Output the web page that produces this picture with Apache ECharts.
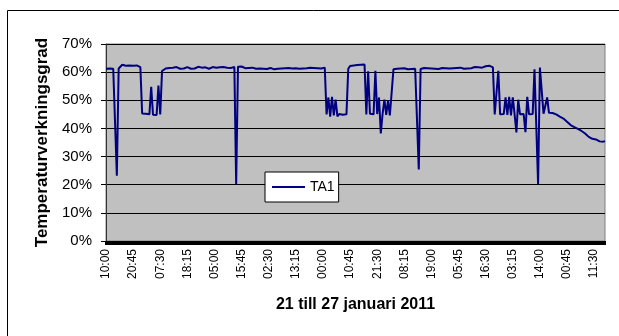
<!DOCTYPE html>
<html>
<head>
<meta charset="utf-8">
<script src="https://cdn.jsdelivr.net/npm/echarts@6/dist/echarts.min.js"></script>
<style>
html,body{margin:0;padding:0;background:#fff;}
#chart{width:619px;height:336px;}
</style>
</head>
<body>
<div id="chart"></div>
<script>
// Tick labels shown on the x axis (one every 15 samples)
var tickLabels = ['10:00','20:45','07:30','18:15','05:00','15:45','02:30','13:15','00:00','10:45',
                  '21:30','08:15','19:00','05:45','16:30','03:15','14:00','00:45','11:30'];
var samplesPerTick = 15;
var seriesName = 'TA1';
var yTicks = [0,10,20,30,40,50,60,70];

// TA1 values (%), 15 samples per tick interval
var ta1 = [
  61.2,61.0,61.3,60.9,61.2,61.4,23.2,61.3,61.8,62.6,62.9,62.3,62.0,62.4,61.9,
  62.3,62.1,62.4,62.0,61.8,45.3,44.8,45.2,44.7,45.0,54.8,44.9,45.2,44.8,55.2,
  45.0,60.4,61.0,61.3,61.1,61.5,61.2,61.6,61.3,61.8,61.4,61.2,61.7,61.3,61.5,
  61.8,61.4,61.2,61.6,61.3,61.5,61.9,61.4,61.6,61.3,61.7,61.5,61.2,61.6,61.8,
  61.4,61.6,61.3,61.7,61.5,61.8,61.4,61.6,61.9,61.5,61.7,61.8,20.2,61.9,61.6,
  62.0,61.7,61.4,61.8,61.5,61.3,61.6,61.4,61.2,61.5,61.3,61.6,61.2,61.4,61.1,
  61.3,61.5,61.2,61.0,61.4,61.2,61.5,61.3,61.0,61.4,61.2,61.5,61.1,61.3,61.2,
  61.4,61.6,61.2,61.5,61.3,61.0,61.4,61.2,61.6,61.3,61.5,61.2,61.4,61.7,61.3,
  61.5,61.6,45.0,51.0,44.2,51.2,44.6,50.2,44.3,45.1,44.4,44.9,44.5,45.0,61.2,
  62.2,62.0,62.4,62.1,62.5,62.3,62.6,62.4,62.7,45.0,60.3,45.2,44.6,45.0,60.5,
  45.1,51.0,38.2,45.3,50.2,44.8,50.0,44.6,45.2,61.0,61.4,61.2,61.0,61.3,61.1,
  61.4,61.2,61.0,61.3,61.1,61.4,61.2,61.0,25.4,61.1,61.3,61.5,61.2,61.4,61.1,
  61.3,61.6,61.2,61.4,61.1,61.3,61.5,61.2,61.4,61.6,61.3,61.1,61.4,61.2,61.5,
  61.3,61.6,61.4,61.2,61.5,61.3,61.7,61.4,61.6,61.8,61.5,61.7,62.0,61.6,61.9,
  62.1,61.8,62.3,62.0,61.7,45.0,44.5,60.5,45.0,44.6,45.1,51.0,44.8,51.2,44.6,
  51.0,45.0,38.6,50.2,45.0,45.5,45.1,38.7,51.2,45.0,45.5,45.1,61.0,61.6,20.2,
  61.6,61.0,45.2,45.6,51.0,45.6,45.4,45.5,45.2,45.0,44.6,44.2,43.8,43.5,43.0,
  42.4,41.8,41.2,40.8,40.5,40.0,39.8,39.4,39.1,38.8,38.2,37.6,37.0,36.6,36.3,
  36.0,36.1,35.7,35.4,35.6,35.3,35.5
];

var categories = ta1.map(function (v, i) {
  return (i % samplesPerTick === 0 && tickLabels[i / samplesPerTick]) ? tickLabels[i / samplesPerTick] : '';
});

var chart = echarts.init(document.getElementById('chart'), null, {renderer: 'canvas'});
var font = '"Liberation Sans", Arial, sans-serif';
chart.setOption({
  animation: false,
  backgroundColor: '#ffffff',
  textStyle: {fontFamily: font},
  graphic: [{
    type: 'rect', z: -1,
    shape: {x: 7.5, y: 10.5, width: 700, height: 400},
    style: {fill: 'none', stroke: '#000', lineWidth: 1}
  }],
  grid: {
    left: 106, right: 14, top: 44, bottom: 95,
    show: true, backgroundColor: '#c0c0c0', borderColor: '#808080', borderWidth: 1
  },
  legend: {
    data: [{name: seriesName, icon: 'rect'}],
    left: 265, top: 172,
    padding: [7, 4, 7, 7],
    backgroundColor: '#fff', borderColor: '#000', borderWidth: 1, borderRadius: 0,
    itemWidth: 33, itemHeight: 2, itemGap: 5,
    itemStyle: {color: '#000080'},
    textStyle: {fontSize: 14, color: '#000', fontFamily: font, lineHeight: 16}
  },
  xAxis: {
    type: 'category',
    data: categories,
    boundaryGap: false,
    name: '21 till 27 januari 2011',
    nameLocation: 'middle',
    nameGap: 56,
    nameTextStyle: {fontSize: 16, fontWeight: 'bold', color: '#000', fontFamily: font},
    axisLine: {show: true, lineStyle: {color: '#000', width: 1}},
    axisTick: {show: true, interval: 0, length: 4, lineStyle: {color: '#000', width: 2}},
    axisLabel: {
      interval: samplesPerTick - 1, rotate: 90, margin: 8,
      fontSize: 12, color: '#000', fontFamily: font
    },
    splitLine: {show: false}
  },
  yAxis: {
    type: 'value',
    min: yTicks[0], max: yTicks[yTicks.length - 1], interval: 10,
    name: 'Temperaturverkningsgrad',
    nameLocation: 'middle',
    nameGap: 55,
    nameTextStyle: {fontSize: 17, fontWeight: 'bold', color: '#000', fontFamily: font},
    axisLine: {show: true, lineStyle: {color: '#333', width: 1}},
    axisTick: {show: true, length: 5, lineStyle: {color: '#000'}},
    axisLabel: {formatter: '{value}%', margin: 14, fontSize: 15, color: '#000', fontFamily: font},
    splitLine: {show: true, lineStyle: {color: '#000', width: 1}}
  },
  series: [{
    name: seriesName,
    type: 'line',
    data: ta1,
    symbol: 'none',
    lineStyle: {color: '#000080', width: 2},
    itemStyle: {color: '#000080'}
  }]
});
</script>
</body>
</html>
